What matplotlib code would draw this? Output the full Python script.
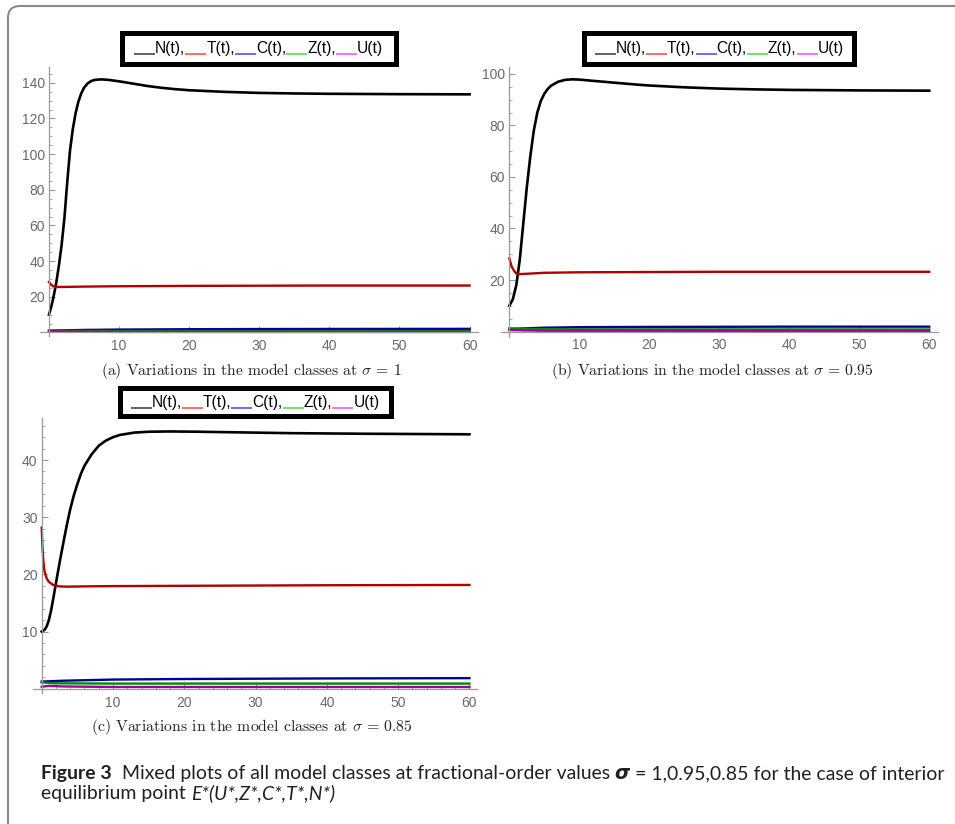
import matplotlib
matplotlib.use('Agg')
import matplotlib.pyplot as plt
from matplotlib.patches import FancyBboxPatch, Rectangle
from matplotlib.ticker import MultipleLocator, FixedLocator

plt.rcParams['mathtext.fontset'] = 'cm'

# ---------------- data ----------------
# Panel (a): sigma = 1
a_N_t = [0, 0.3, 0.6, 1.0, 1.4, 1.8, 2.2, 2.6, 3.0, 3.4, 3.8, 4.2, 4.6, 5.0, 5.5, 6.0, 6.5,
         7.5, 8.5, 10, 12, 14, 16, 18, 20, 25, 30, 35, 40, 50, 60]
a_N_v = [10, 14, 19, 27, 37, 49, 64, 84, 102, 114, 123, 129.5, 134, 137.2, 139.6, 140.9, 141.6,
         141.9, 141.6, 140.8, 139.5, 138.2, 137.2, 136.4, 135.8, 134.9, 134.3, 134.0, 133.8, 133.6, 133.5]
a_T_t = [0, 0.3, 0.6, 1.0, 2, 5, 10, 20, 30, 40, 60]
a_T_v = [28.3, 26.8, 25.9, 25.5, 25.5, 25.7, 25.9, 26.1, 26.2, 26.3, 26.3]
a_C_t = [0, 5, 10, 20, 30, 40, 60]
a_C_v = [1.0, 1.4, 1.6, 1.8, 1.9, 1.95, 2.0]
a_Z_t = [0, 2, 10, 60]
a_Z_v = [1.0, 0.9, 0.8, 0.75]
a_U_t = [0, 1, 3, 10, 60]
a_U_v = [0.5, 0.6, 0.45, 0.3, 0.25]

# Panel (b): sigma = 0.95
b_N_t = [0, 0.5, 1.0, 1.5, 2.0, 2.5, 3.0, 3.5, 4.0, 4.5, 5.0, 5.5, 6.0, 7.0, 8.0, 9.0, 10,
         12, 15, 18, 20, 25, 30, 35, 40, 50, 60]
b_N_v = [10, 12.5, 18, 28, 42, 56, 68, 78, 85, 89.5, 92.3, 94.2, 95.5, 97, 97.7, 97.9, 97.8,
         97.3, 96.6, 95.9, 95.5, 94.8, 94.3, 94.0, 93.8, 93.6, 93.5]
b_T_t = [0, 0.3, 0.6, 1.0, 1.5, 3, 5, 10, 20, 30, 60]
b_T_v = [28.4, 25.5, 23.9, 22.5, 22.3, 22.5, 22.8, 23.0, 23.1, 23.2, 23.2]
b_C_t = [0, 5, 10, 20, 40, 60]
b_C_v = [1.0, 1.5, 1.7, 1.8, 1.9, 1.9]
b_Z_t = [0, 2, 10, 60]
b_Z_v = [1.2, 1.0, 0.85, 0.8]
b_U_t = [0, 1, 5, 60]
b_U_v = [0.6, 0.5, 0.3, 0.25]

# Panel (c): sigma = 0.85
c_N_t = [0, 0.4, 0.7, 1.0, 1.3, 1.6, 2.0, 2.5, 3.0, 3.5, 4.0, 4.5, 5.0, 5.5, 6.0, 7.0, 8.0,
         9.0, 10, 11, 13, 15, 18, 22, 27, 35, 45, 60]
c_N_v = [10, 10.3, 10.9, 12, 13.6, 15.6, 18.5, 22, 25.3, 28.5, 31.4, 33.8, 35.8, 37.6, 39,
         41, 42.5, 43.4, 44, 44.4, 44.8, 44.95, 45.0, 44.95, 44.85, 44.7, 44.6, 44.5]
c_T_t = [0, 0.1, 0.23, 0.4, 0.7, 1.0, 1.6, 2.5, 3.5, 6, 10, 20, 40, 60]
c_T_v = [28.2, 25, 22.2, 20.5, 19.3, 18.7, 18.15, 17.9, 17.85, 17.9, 17.95, 18.0, 18.1, 18.15]
c_C_t = [0, 3, 10, 20, 40, 60]
c_C_v = [1.25, 1.4, 1.6, 1.7, 1.8, 1.85]
c_Z_t = [0, 2, 10, 60]
c_Z_v = [1.1, 0.95, 0.9, 0.9]
c_U_t = [0, 1, 3, 10, 60]
c_U_v = [0.35, 0.5, 0.4, 0.3, 0.3]

series_names = ['N(t)', 'T(t)', 'C(t)', 'Z(t)', 'U(t)']
line_colors = ['#000000', '#b00000', '#00009a', '#008a00', '#a000a0']
legend_colors = ['#555555', '#ff6060', '#6060ff', '#60e060', '#ff60ff']

x_ticks = [10, 20, 30, 40, 50, 60]
a_y_ticks = [20, 40, 60, 80, 100, 120, 140]
b_y_ticks = [20, 40, 60, 80, 100]
c_y_ticks = [10, 20, 30, 40]

subcaptions = [r"(a) Variations in the model classes at $\sigma\,=\,1$",
               r"(b) Variations in the model classes at $\sigma\,=\,0.95$",
               r"(c) Variations in the model classes at $\sigma\,=\,0.85$"]

# ---------------- figure ----------------
W, H = 955, 824
fig = plt.figure(figsize=(W / 100, H / 100), dpi=100)
fig.patch.set_facecolor('white')


def px_axes(l, t, r, b):
    return fig.add_axes([l / W, 1 - b / H, (r - l) / W, (b - t) / H])


panels = [
    dict(box=(40, 66.7, 478, 336), xlim=(-1.28, 61.2), ylim=(-2.0, 149),
         yt=a_y_ticks, ymin=5,
         data=[(a_N_t, a_N_v), (a_T_t, a_T_v), (a_C_t, a_C_v), (a_Z_t, a_Z_v), (a_U_t, a_U_v)]),
    dict(box=(500.7, 66.7, 938.3, 336.7), xlim=(-1.23, 61.3), ylim=(-2.0, 102.8),
         yt=b_y_ticks, ymin=5,
         data=[(b_N_t, b_N_v), (b_T_t, b_T_v), (b_C_t, b_C_v), (b_Z_t, b_Z_v), (b_U_t, b_U_v)]),
    dict(box=(33.3, 418.3, 477.3, 693.3), xlim=(-1.18, 61.1), ylim=(-0.8, 47.3),
         yt=c_y_ticks, ymin=2,
         data=[(c_N_t, c_N_v), (c_T_t, c_T_v), (c_C_t, c_C_v), (c_Z_t, c_Z_v), (c_U_t, c_U_v)]),
]

axis_gray = '#9a9a9a'
label_gray = '#6a6a6a'

for p in panels:
    ax = px_axes(*p['box'])
    ax.set_xlim(*p['xlim'])
    ax.set_ylim(*p['ylim'])
    ax.patch.set_alpha(0)
    for s in ['top', 'right']:
        ax.spines[s].set_visible(False)
    ax.spines['left'].set_position(('data', 0))
    ax.spines['bottom'].set_position(('data', 0))
    for s in ['left', 'bottom']:
        ax.spines[s].set_color(axis_gray)
        ax.spines[s].set_linewidth(0.9)
    for i, (t, v) in enumerate(p['data']):
        ax.plot(t, v, color=line_colors[i], lw=1.9 if i == 0 else 1.7,
                solid_joinstyle='round', clip_on=False)
    ax.xaxis.set_major_locator(FixedLocator(x_ticks))
    ax.yaxis.set_major_locator(FixedLocator(p['yt']))
    ax.xaxis.set_minor_locator(MultipleLocator(2))
    ax.yaxis.set_minor_locator(MultipleLocator(p['ymin']))
    ax.tick_params(which='major', direction='in', length=4, width=0.8, color=axis_gray,
                   labelcolor=label_gray, labelsize=10)
    ax.tick_params(which='minor', direction='in', length=2, width=0.6, color=axis_gray)
    ax.tick_params(axis='x', pad=5)
    ax.tick_params(axis='y', pad=3)
    for lab in ax.get_xticklabels() + ax.get_yticklabels():
        lab.set_fontfamily('Liberation Sans')

# ---------------- overlay (pixel coordinates) ----------------
ov = fig.add_axes([0, 0, 1, 1], zorder=10)
ov.set_xlim(0, W)
ov.set_ylim(H, 0)
ov.axis('off')
ov.patch.set_alpha(0)
renderer = fig.canvas.get_renderer()


def width_of(t):
    return t.get_window_extent(renderer).width


# outer rounded frame (right and bottom edges fall outside the picture)
ov.add_patch(FancyBboxPatch((8, 6), 1200, 900, boxstyle='round,pad=0,rounding_size=12',
                            facecolor='none', edgecolor='#8a8a8a', linewidth=1.5, clip_on=False))


def draw_legend(box):
    l, t, r, b = box
    lw = 5
    ov.add_patch(Rectangle((l + lw / 2, t + lw / 2), r - l - lw, b - t - lw, facecolor='white',
                           edgecolor='black', linewidth=lw * 0.72))
    seg = 21
    fs = 11.2
    texts = [ov.text(0, 0, n + (',' if i < 4 else ''), fontsize=fs, family='Liberation Sans',
                     va='baseline', ha='left', color='black') for i, n in enumerate(series_names)]
    ws = [width_of(tx) for tx in texts]
    total = 5 * seg + sum(ws)
    x = (l + r) / 2 - total / 2
    base = (t + b) / 2 + 5
    for i, tx in enumerate(texts):
        ov.plot([x, x + seg], [base + 1, base + 1], color=legend_colors[i], lw=1.3,
                solid_capstyle='butt')
        x += seg
        tx.set_position((x, base))
        x += ws[i]


draw_legend((119, 30.7, 398, 66))
draw_legend((581.7, 30.7, 856.7, 66))
draw_legend((117, 385, 393, 418))


def fit_center_text(cx, base, s, target_w, family, fs0=11):
    tx = ov.text(cx, base, s, fontsize=fs0, family=family, ha='center', va='baseline',
                 color='#222222')
    w = width_of(tx)
    tx.set_fontsize(fs0 * target_w / w)
    return tx


fit_center_text(251.5, 375, subcaptions[0], 301, 'cmr10')
fit_center_text(712, 375, subcaptions[1], 323, 'cmr10')
fit_center_text(251.5, 731, subcaptions[2], 322, 'cmr10')


def runs_line(x0, base, runs, fs):
    objs = []
    x = x0
    for s, kw in runs:
        tx = ov.text(x, base, s, fontsize=fs, va='baseline', ha='left', color='#231f20', **kw)
        objs.append(tx)
        x += width_of(tx)
    return x - x0, objs


cap_font = ['Lato', 'DejaVu Sans']
line1 = [("Figure 3", dict(family=cap_font, weight='bold')),
         ("  Mixed plots of all model classes at fractional-order values ", dict(family=cap_font)),
         ("σ", dict(family=['DejaVu Sans'], style='italic', weight='bold')),
         (" = 1,0.95,0.85 for the case of interior", dict(family=cap_font))]
line2 = [("equilibrium point ", dict(family=cap_font)),
         ("E*(U*,Z*,C*,T*,N*)", dict(family=cap_font, style='italic'))]

fs_cap = 12.5
w1, objs1 = runs_line(41, 779, line1, fs_cap)
for o in objs1:
    o.remove()
fs_cap = fs_cap * (901 / w1)
runs_line(41, 779, line1, fs_cap)
runs_line(41, 799, line2, fs_cap)

fig.savefig('out.png', dpi=100, facecolor='white')
